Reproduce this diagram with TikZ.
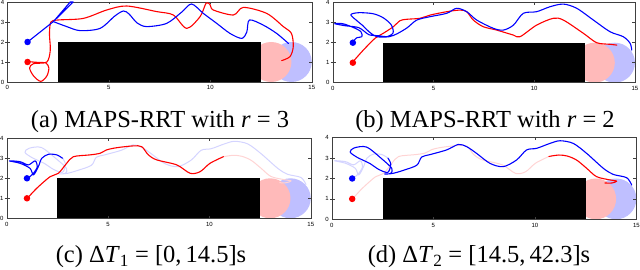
\documentclass[tikz,border=0pt]{standalone}
\usepackage{fontspec}
\setmainfont{Liberation Serif}
\setsansfont{Liberation Sans}
\tikzset{
  frame/.style={draw=black!75, line width=0.4pt},
  obst/.style={fill=black},
  redzone/.style={fill=red!27},
  bluezone/.style={fill=blue!25},
  redpath/.style={draw=red, line width=1.1pt, line join=round, line cap=round},
  bluepath/.style={draw=blue, line width=1.1pt, line join=round, line cap=round},
  fadered/.style={draw=red!17, line width=1pt, line join=round},
  fadeblue/.style={draw=blue!17, line width=1pt, line join=round},
  ticklbl/.style={font=\sffamily\fontsize{6}{7}\selectfont, inner sep=0.5pt},
  captxt/.style={font=\fontsize{24.5}{27}\selectfont, inner sep=0pt, anchor=base},
  reddot/.style={circle, fill=red, inner sep=0pt, minimum size=6.5pt},
  bluedot/.style={circle, fill=blue, inner sep=0pt, minimum size=6.5pt},
  sm/.style={smooth, tension=0.5}
}
\newcommand\panelbase[1]{%
  \begin{scope}
    \clip (0,0) rectangle (15,4);
    \fill[bluezone] (14,1) circle [radius=1];
    \fill[redzone] (13,1) circle [radius=1];
  \end{scope}
  \fill[obst] (2.5,0) rectangle (12.5,2);
  \draw[frame] (0,0) rectangle (15,4);
  \foreach \v in {5,10} {
    \draw[frame] (\v,0) -- (\v,0.12);
    \draw[frame] (\v,4) -- (\v,3.88);
  }
  \foreach \v in {1,2,3} {
    \draw[frame] (-0.1,\v) -- (0.15,\v);
    \draw[frame] (15,\v) -- (14.85,\v);
  }
  \foreach \v in {0,5,10,15}
    \node[ticklbl, anchor=north] (#1x\v) at (\v,-0.15) {\v};
  \foreach \v in {0,1,2,3,4}
    \node[ticklbl, anchor=east] (#1y\v) at (-0.12,\v) {\v};
}
\def\redC{(1.02,1.0) (1.48,1.5) (2.14,2.08) (2.55,2.25) (2.96,2.75) (3.29,3.08) (4.11,3.17) (4.6,3.25) (4.93,3.42) (5.43,3.53) (6.25,3.62) (6.66,3.58) (6.99,3.17) (7.4,2.92) (8.39,2.67) (9.05,2.25) (9.54,2.33) (10.03,2.75) (10.69,3.08)}
\def\redD{(10.69,3.08) (11.18,3.15) (11.6,3.1) (12.06,2.9) (12.55,2.5) (13.04,2.09) (13.7,1.93) (14.03,1.87) (13.8,1.78) (13.45,1.78)}
\def\blueC{(1.02,1.98) (1.32,2.25) (1.51,2.58) (1.4,2.87) (1.07,2.67) (0.66,2.83) (0.13,2.87) (0.66,2.75) (1.15,2.5) (1.32,2.17) (1.56,2.58) (1.73,3.0) (2.06,3.2) (2.47,3.17) (2.76,3.0)}
\def\blueD{(2.76,3.0) (2.9,2.7) (2.75,2.3) (2.3,2.45) (1.88,2.73) (1.22,3.05) (0.9,3.3) (1.1,3.5) (1.71,3.54) (2.45,2.97) (2.95,2.5) (2.9,2.25) (2.6,2.22) (3.0,2.25) (3.52,2.4) (4.18,2.65) (4.42,3.05) (4.83,3.17) (5.65,3.4) (6.23,3.67) (6.64,3.56) (7.13,3.23) (7.79,2.74) (8.44,2.58) (9.1,2.91) (9.59,3.4) (10.09,3.48) (10.74,3.72) (11.24,3.85) (11.89,3.72) (12.55,3.23) (13.37,2.5) (13.86,2.2) (14.52,2.04) (14.77,1.68)}
\begin{document}
\begin{tikzpicture}[x=1pt,y=1pt]
\useasboundingbox (0,0) rectangle (640,270);
% (a)
\begin{scope}[shift={(7.25pt,188pt)}, x=20.3pt, y=20pt]
  \panelbase{a}
  \draw[redpath] plot[sm] coordinates {(1.01,1.02) (1.5,0.98) (1.9,0.95) (2.05,0.7) (1.95,0.3) (1.65,0.03) (1.3,0.3) (1.1,0.7) (1.3,0.92) (1.95,1.0) (2.12,1.6) (2.08,2.4) (2.15,3.0) (2.5,3.1) (3.75,3.18) (4.9,3.6) (5.88,3.8) (7.36,3.52) (8.18,3.35) (8.84,2.68) (9.5,3.27) (9.8,3.95) (10.0,3.85) (10.15,3.6) (11.14,3.35) (11.63,3.73) (12.78,3.43) (13.6,2.77) (14.0,2.43) (14.09,1.77) (13.93,1.27) (13.52,1.07)};
  \draw[bluepath] (1,2) -- (2.27,3.02) -- (3.25,4.0) -- (3.1,4.0) -- (2.3,3.05);
  \draw[bluepath] plot[sm] coordinates {(2.27,3.02) (2.93,2.77) (3.58,2.57) (4.57,2.68) (5.3,3.3) (5.72,3.55) (6.0,3.4) (6.4,2.95) (6.87,2.77) (7.85,2.93) (8.6,3.5) (9.08,3.9) (9.66,3.43) (10.32,2.93) (10.97,2.43) (11.55,2.18) (11.8,2.5) (11.93,3.1) (12.6,2.85) (13.27,2.43) (13.85,1.93)};
  \node[reddot] (ar) at (1,1) {};
  \node[bluedot] (ab) at (1,2) {};
\end{scope}
\node[captxt] (capa) at (160,142.3) {(a) MAPS-RRT with \textit{r} = 3};
% (b)
\begin{scope}[shift={(332.7pt,187.3pt)}, x=20.15pt, y=20pt]
  \panelbase{b}
  \draw[redpath] plot[sm] coordinates {(0.98,1.02) (1.52,1.63) (2.1,2.22) (2.51,2.47) (3.01,2.8) (3.34,3.1) (3.67,3.17) (4.33,3.22) (4.83,3.38) (5.66,3.55) (6.32,3.63) (6.65,3.55) (6.98,3.13) (7.47,2.8) (8.14,2.63) (8.97,2.38) (9.3,2.3) (10.12,2.88) (10.95,3.22) (11.45,3.13) (12.44,2.47) (13.1,2.0) (13.76,1.92) (14.1,1.88)};
  \draw[bluepath] plot[sm] coordinates {(0.98,2.02) (1.2,2.25) (1.45,2.3) (1.4,2.55) (1.05,2.75) (0.5,2.95) (0.1,2.95) (0.6,2.85) (1.3,2.75) (1.8,2.4) (2.3,2.35) (2.7,2.3) (3.0,2.5) (2.9,2.9) (2.5,3.25) (2.0,3.45) (1.3,3.5) (0.9,3.4) (1.2,3.1) (1.5,2.85) (1.8,2.55) (2.2,2.3) (2.8,2.3) (3.2,2.45) (3.7,2.75) (4.17,3.13) (4.83,3.3) (5.66,3.47) (6.15,3.72) (6.65,3.55) (7.15,3.13) (7.97,2.72) (8.47,2.63) (8.97,2.88) (9.46,3.47) (10.12,3.55) (10.79,3.8) (11.45,3.93) (12.11,3.72) (12.94,3.13) (13.76,2.55) (14.42,2.3) (14.76,1.97) (14.84,1.63)};
  \node[reddot] (br) at (1,1) {};
  \node[bluedot] (bb) at (1,2) {};
\end{scope}
\node[captxt] (capb) at (485,142.3) {(b) MAPS-RRT with \textit{r} = 2};
% (c)
\begin{scope}[shift={(6.7pt,51.7pt)}, x=20.27pt, y=20pt]
  \panelbase{c}
  \draw[fadeblue] plot[sm] coordinates {\blueD};
  \draw[fadered] plot[sm] coordinates {\redD};
  \draw[redpath] plot[sm] coordinates {\redC};
  \draw[bluepath] plot[sm] coordinates {\blueC};
  \node[reddot] (cr) at (1,1) {};
  \node[bluedot] (cb) at (1,2) {};
\end{scope}
\node[captxt] (capc) at (151,7.3) {(c) Δ\textit{T}\textsubscript{1} = [0,\,14.5]s};
% (d)
\begin{scope}[shift={(331.9pt,50.7pt)}, x=20.3pt, y=20.4pt]
  \panelbase{d}
  \draw[fadeblue] plot[sm] coordinates {\blueC};
  \draw[fadered] plot[sm] coordinates {\redC};
  \draw[redpath] plot[sm] coordinates {\redD};
  \draw[bluepath] plot[sm] coordinates {\blueD};
  \node[reddot] (dr) at (1,1) {};
  \node[bluedot] (db) at (1,2) {};
\end{scope}
\node[captxt] (capd) at (479,7.3) {(d) Δ\textit{T}\textsubscript{2} = [14.5,\,42.3]s};
\end{tikzpicture}
\end{document}
